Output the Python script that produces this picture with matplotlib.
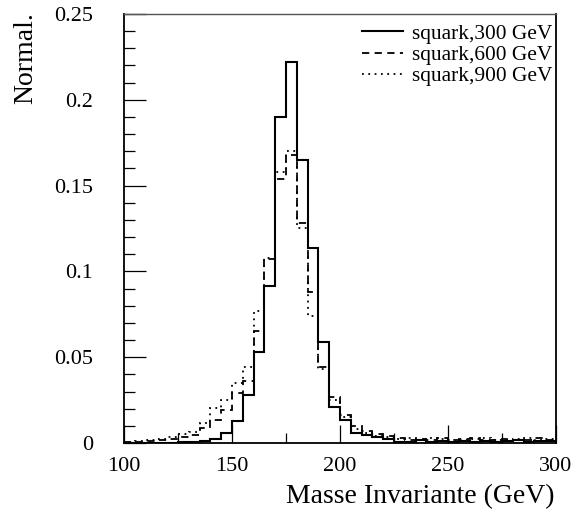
import matplotlib
matplotlib.use("Agg")
import matplotlib.pyplot as plt
import numpy as np
from matplotlib.ticker import MultipleLocator, FormatStrFormatter

plt.rcParams['font.family'] = ['Liberation Serif', 'DejaVu Serif']

# bin edges: 100..300 GeV, 5 GeV bins
edges = np.arange(100, 301, 5)

sq300 = [0.0, 0.0, 0.0, 0.0, 0.0, 0.0003, 0.0008, 0.0014, 0.0025, 0.006,
         0.0127, 0.028, 0.0533, 0.0913, 0.1897, 0.2218, 0.165, 0.1135, 0.0588, 0.0212,
         0.0134, 0.006, 0.0045, 0.0035, 0.0025, 0.0008, 0.0008, 0.0015, 0.0006, 0.0012,
         0.0008, 0.001, 0.0006, 0.0012, 0.0008, 0.001, 0.0015, 0.0008, 0.001, 0.0012]

sq600 = [0.0005, 0.0008, 0.0012, 0.0018, 0.0023, 0.0037, 0.0047, 0.0086, 0.0134, 0.0193,
         0.029, 0.036, 0.065, 0.107, 0.154, 0.168, 0.128, 0.088, 0.044, 0.027,
         0.0164, 0.0099, 0.007, 0.005, 0.004, 0.003, 0.002, 0.0025, 0.002, 0.003,
         0.002, 0.0025, 0.003, 0.0015, 0.002, 0.0025, 0.002, 0.0015, 0.003, 0.002]

sq900 = [0.0008, 0.0014, 0.0018, 0.0023, 0.0033, 0.0053, 0.0066, 0.0115, 0.0203, 0.0251,
         0.035, 0.044, 0.0767, 0.108, 0.158, 0.170, 0.125, 0.074, 0.043, 0.0251,
         0.015, 0.008, 0.006, 0.004, 0.0035, 0.0025, 0.003, 0.002, 0.003, 0.0025,
         0.0015, 0.002, 0.0025, 0.003, 0.0015, 0.0015, 0.0025, 0.003, 0.0015, 0.0025]

labels = ["squark,300 GeV", "squark,600 GeV", "squark,900 GeV"]

fig = plt.figure(figsize=(5.85, 5.16), dpi=100)
ax = fig.add_axes([124/585, 1-443/516, (556-124)/585, (443-14)/516])

ax.stairs(sq300, edges, color='black', lw=1.5, label=labels[0])
ax.stairs(sq600, edges, color='black', lw=1.3, linestyle=(0, (4, 3)), label=labels[1])
ax.stairs(sq900, edges, color='black', lw=1.3, linestyle=(0, (1, 2.5)), label=labels[2])

ax.set_xlim(100, 300)
ax.set_ylim(0, 0.25)

ax.xaxis.set_major_locator(MultipleLocator(50))
ax.xaxis.set_minor_locator(MultipleLocator(25))
ax.yaxis.set_major_locator(MultipleLocator(0.05))
ax.yaxis.set_minor_locator(MultipleLocator(0.01))
ax.yaxis.set_major_formatter(FormatStrFormatter('%g'))

ax.tick_params(axis='y', which='major', direction='in', length=16, width=0.9,
               labelsize=16, pad=22, right=False)
ax.tick_params(axis='y', which='minor', direction='in', length=8, width=0.9, right=False)
ax.tick_params(axis='x', which='major', direction='in', length=13, width=0.9,
               labelsize=16, pad=10, top=False)
ax.tick_params(axis='x', which='minor', direction='in', length=7, width=0.9, top=False)

for s in ['left', 'bottom', 'right']:
    ax.spines[s].set_linewidth(1.3)
ax.spines['top'].set_linewidth(1.0)
ax.spines['top'].set_color('#555555')

fig.text(555/585, 1-497/516, "Masse Invariante (GeV)", ha='right', va='center', fontsize=20)
fig.text(26/585, 1-12/516, "Normal.", ha='center', va='top', rotation=90, fontsize=20)

leg = ax.legend(loc='upper left', bbox_to_anchor=(362/585, 1-24/516),
                bbox_transform=fig.transFigure, frameon=False, fontsize=15.4,
                handlelength=1.9, handletextpad=0.45, labelspacing=0.05,
                borderpad=0, borderaxespad=0)

fig.savefig("out.png", dpi=100)
